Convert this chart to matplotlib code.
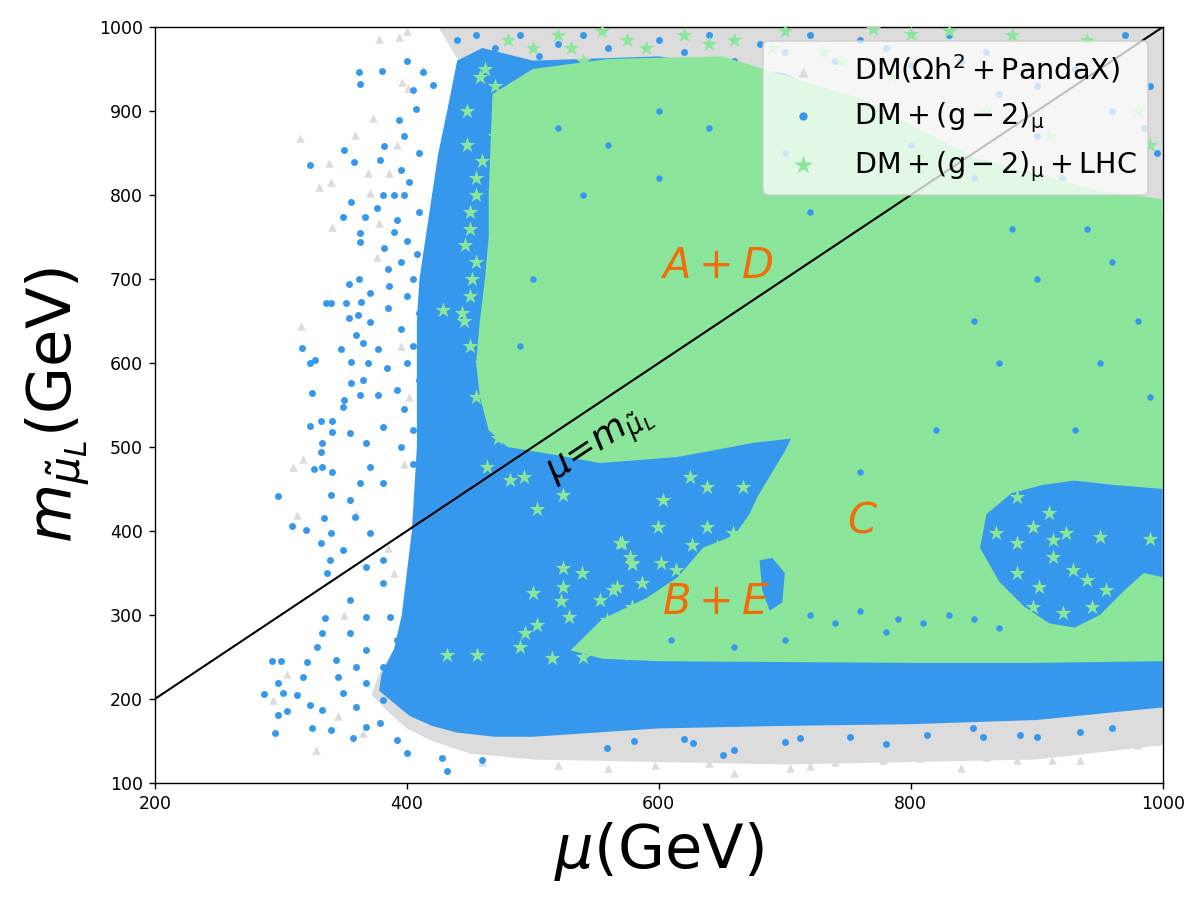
import matplotlib.pyplot as plt
import matplotlib
matplotlib.use("Agg")

# colours of the three sample sets
c_gray = '#dcdcdc'
c_blue = '#3598ec'
c_green = '#8be69b'
c_text = '#f06e0a'

# dense envelopes (mu, m_muL) in GeV
gray_env_x = [425, 441, 433, 426, 421, 416, 413, 411, 411, 411, 409, 407, 403, 398, 390, 378, 372, 385, 400, 420,
              450, 500, 600, 700, 800, 900, 1000, 1000]
gray_env_y = [1000, 960, 900, 850, 800, 750, 700, 650, 550, 500, 450, 400, 350, 300, 260, 230, 205, 185, 165, 150,
              135, 128, 125, 122, 125, 128, 145, 1000]

blue_env_x = [440, 432, 425, 420, 415, 410, 408, 408, 408, 408, 406, 404, 400, 396, 390, 380, 378, 390, 402, 420, 440,
              470, 500, 600, 700, 800, 900, 1000, 1000, 950, 850, 760, 700, 600, 500, 460]
blue_env_y = [960, 900, 850, 800, 750, 700, 650, 600, 550, 500, 450, 400, 350, 300, 260, 230, 210, 195, 180, 168, 160,
              155, 155, 165, 168, 170, 175, 190, 780, 800, 835, 900, 945, 965, 960, 975]

green_env_x = [468, 500, 560, 650, 760, 850, 950, 1000, 1000, 900, 800, 700, 600, 555, 530,
               555, 590, 615, 635, 660, 672, 678, 690, 700, 705, 675, 640, 614, 580, 553, 520, 500, 480, 465,
               458, 455, 458, 462, 465, 465, 468]
green_env_y = [920, 950, 962, 965, 915, 845, 805, 795, 245, 243, 243, 244, 245, 248, 258,
               295, 320, 345, 380, 395, 420, 440, 470, 495, 510, 505, 495, 488, 484, 481, 490, 495, 500, 520,
               560, 600, 650, 700, 750, 800, 920]

# blue pockets inside the green area
patch_a_x = [1000, 960, 930, 905, 880, 860, 855, 870, 890, 910, 930, 950, 970, 985, 1000]
patch_a_y = [450, 455, 460, 455, 445, 420, 380, 340, 310, 290, 285, 300, 330, 350, 345]
patch_b_x = [680, 690, 700, 698, 688, 682]
patch_b_y = [365, 368, 350, 315, 305, 330]

# sparse points outside the dense envelopes
gray_x = [315, 338, 330, 340, 359, 373, 378, 394, 400, 396, 401, 369, 386, 371, 341, 378, 316, 376, 413,
          318, 310, 313, 328, 294, 597, 704, 720, 778, 807, 860, 884, 912, 934, 946, 957, 460, 520, 560,
          640, 660, 740, 840, 980, 360, 350, 390, 305, 345, 365, 395, 402, 398, 385, 392]
gray_y = [868, 838, 810, 815, 871, 892, 986, 988, 995, 935, 927, 826, 826, 802, 762, 767, 644, 726, 950,
          486, 476, 419, 139, 199, 121, 118, 120, 127, 130, 131, 127, 127, 127, 155, 150, 125, 122, 118,
          124, 112, 125, 118, 145, 420, 300, 350, 230, 180, 160, 620, 560, 480, 380, 860]

blue_x = [362, 380, 363, 413, 421, 407, 394, 382, 350, 323, 358, 379, 356, 381, 390, 398, 349, 367, 376, 392,
          363, 363, 390, 382, 385, 354, 362, 371, 386, 336, 340, 352, 364, 354, 361, 385, 371, 360, 317, 348,
          365, 377, 327, 323, 356, 369, 384, 356, 365, 325, 350, 363, 377, 392, 349,
          323, 332, 341, 341, 333, 332, 326, 333, 341, 298, 340, 309, 320, 332, 334, 340, 339, 337, 335, 333,
          329, 321, 293, 300, 318, 298, 302, 287, 313, 305, 298, 323, 295, 325, 340, 333, 349, 345, 357, 368,
          379, 392, 400, 432, 428, 460,
          355, 359, 349, 355, 368, 355, 368, 344, 360, 381, 368, 381, 360, 371, 381, 371, 381, 368, 381, 387,
          392, 387, 397, 355, 368, 381, 363,
          400, 405, 398, 410, 395, 402, 410, 400, 408, 395, 405, 400, 410, 395, 405, 400, 410, 398, 405, 395, 405,
          559, 627, 651, 660, 752, 813, 857, 887, 934, 849, 712, 580, 620, 700, 780, 900, 960,
          440, 450, 455, 470, 490, 505, 520, 540, 560, 575, 600, 620, 640, 660, 680, 700, 720, 740, 760, 780,
          800, 830, 860, 900, 930, 960, 985, 995, 990, 970, 900, 920, 950, 870, 840, 990, 975]
blue_y = [946, 948, 932, 946, 931, 902, 889, 858, 854, 836, 839, 842, 792, 800, 800, 800, 774, 774, 785, 770,
          755, 744, 756, 737, 712, 694, 700, 683, 692, 671, 671, 671, 673, 654, 657, 665, 649, 633, 618, 617,
          624, 617, 604, 600, 601, 600, 594, 576, 580, 564, 556, 562, 562, 568, 548,
          525, 531, 531, 518, 505, 494, 474, 476, 470, 442, 443, 406, 401, 386, 415, 398, 365, 350, 296, 279,
          262, 244, 245, 245, 226, 219, 207, 206, 205, 186, 181, 193, 160, 165, 163, 187, 207, 226, 154, 167,
          171, 151, 136, 114, 130, 127,
          437, 417, 377, 318, 298, 279, 258, 246, 238, 238, 219, 199, 190, 476, 457, 398, 365, 357, 338, 298,
          270, 219, 199, 517, 505, 524, 457,
          960, 925, 870, 850, 830, 815, 780, 745, 730, 720, 700, 680, 660, 640, 620, 600, 580, 545, 520, 500, 480,
          142, 148, 133, 139, 155, 157, 155, 157, 161, 165, 154, 150, 152, 149, 147, 155, 165,
          985, 960, 990, 975, 990, 965, 980, 990, 975, 960, 985, 970, 990, 960, 980, 970, 990, 960, 985, 975,
          955, 990, 970, 930, 950, 900, 880, 850, 930, 990, 870, 820, 780, 920, 960, 720, 640]

# small blue specks lying on top of the green area
speck_x = [560, 600, 640, 700, 720, 800, 850, 880, 940, 960, 600, 520, 540, 900, 980, 950, 850, 990,
           720, 740, 760, 790, 810, 830, 850, 870, 780, 700, 660, 610, 760, 820, 500, 490, 870, 930]
speck_y = [860, 820, 880, 850, 780, 860, 820, 760, 760, 720, 900, 880, 800, 700, 650, 600, 650, 560,
           300, 290, 305, 295, 290, 300, 295, 285, 280, 270, 262, 270, 470, 520, 700, 620, 600, 520]

green_x = [462, 470, 480, 500, 520, 540, 555, 590, 620, 660, 700, 730, 770, 800, 830, 880, 940, 980, 990,
           470, 460, 455, 450, 455, 450, 445, 448, 455, 450, 446, 452, 444, 450, 460, 455, 470, 448, 458, 429,
           503, 524, 571, 577, 579, 524, 539, 500, 524, 522, 529, 553, 567, 503, 494, 490, 432, 456, 515, 540,
           559, 577, 464, 472, 483, 482, 493,
           603, 599, 569, 579, 625, 638, 667, 638, 602, 614, 626, 587, 564, 559, 579, 659, 646,
           868, 884, 897, 913, 923, 950, 913, 929, 884, 902, 940, 955, 944, 921, 897, 884, 910, 990, 985,
           530, 575, 640, 690, 745, 785, 860, 910]
green_y = [950, 930, 985, 975, 990, 960, 995, 975, 990, 985, 995, 970, 998, 992, 995, 990, 985, 900, 860,
           870, 840, 800, 760, 720, 680, 650, 860, 820, 780, 740, 700, 660, 620, 600, 560, 540, 900, 940, 663,
           426, 443, 386, 369, 361, 356, 350, 326, 333, 317, 298, 318, 333, 288, 279, 262, 252, 252, 249, 250,
           270, 253, 476, 511, 508, 461, 464,
           437, 405, 386, 362, 464, 452, 452, 405, 362, 354, 383, 338, 330, 294, 310, 398, 381,
           398, 386, 405, 389, 398, 393, 369, 354, 350, 333, 342, 330, 310, 302, 310, 440, 421, 390, 300,
           975, 985, 980, 975, 960, 940, 900, 870]

# diagonal mu = m_muL
line_x = [200, 1000]
line_y = [200, 1000]

fig = plt.figure(figsize=(9.6, 7.2), dpi=125)
ax = fig.add_axes([0.129, 0.13, 0.84, 0.84])

ax.fill(gray_env_x, gray_env_y, color=c_gray, lw=0, zorder=1)
ax.scatter(gray_x, gray_y, marker='^', s=24, color=c_gray, lw=0, zorder=1.5,
           label=r'$\mathrm{DM(\Omega h^2+PandaX)}$')
ax.fill(blue_env_x, blue_env_y, color=c_blue, lw=0, zorder=2)
ax.scatter(blue_x, blue_y, marker='o', s=16, color=c_blue, lw=0, zorder=2.5,
           label=r'$\mathrm{DM+(g-2)_\mu}$')
ax.fill(green_env_x, green_env_y, color=c_green, lw=0, zorder=3)
ax.fill(patch_a_x, patch_a_y, color=c_blue, lw=0, zorder=3.2)
ax.fill(patch_b_x, patch_b_y, color=c_blue, lw=0, zorder=3.2)
ax.scatter(speck_x, speck_y, marker='o', s=14, color=c_blue, lw=0, zorder=3.3)
ax.scatter(green_x, green_y, marker='*', s=90, color=c_green, lw=0, zorder=3.5,
           label=r'$\mathrm{DM+(g-2)_\mu+LHC}$')

ax.plot(line_x, line_y, color='black', lw=1.2, zorder=4)

ax.text(555, 500, r'$\mu$=$m_{\tilde{\mu}_L}$', fontsize=21, rotation=33.5,
        ha='center', va='center', zorder=5)
ax.text(646, 715, r'$A+D$', fontsize=24, color=c_text, ha='center', va='center', zorder=5)
ax.text(762, 413, r'$C$', fontsize=24, color=c_text, ha='center', va='center', zorder=5)
ax.text(645, 315, r'$B+E$', fontsize=24, color=c_text, ha='center', va='center', zorder=5)

ax.set_xlim(200, 1000)
ax.set_ylim(100, 1000)
ax.set_xticks([200, 400, 600, 800, 1000])
ax.set_yticks(range(100, 1001, 100))
ax.tick_params(labelsize=10)
ax.set_xlabel(r'$\mu$(GeV)', fontsize=35)
ax.set_ylabel(r'$m_{\tilde{\mu}_L}$(GeV)', fontsize=35)

leg = ax.legend(loc='upper right', fontsize=16.5, markerscale=1.2, framealpha=0.75)
leg.set_zorder(6)

fig.savefig('out.png')
